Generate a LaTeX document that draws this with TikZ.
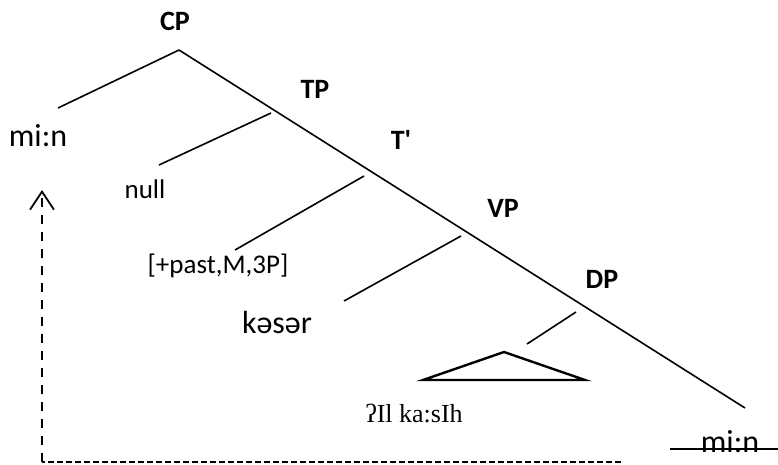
\documentclass[tikz,border=0pt]{standalone}
\usepackage{fontspec}
\setmainfont{Carlito}
\newfontfamily\labelfont{Carlito}
\newfontfamily\ipafont{Liberation Serif}
\usetikzlibrary{arrows.meta}

\begin{document}
\begin{tikzpicture}[x=1pt, y=-1pt,
  cat/.style={anchor=base, font=\labelfont\fontsize{28}{32}\selectfont\bfseries},
  word/.style={anchor=base, font=\labelfont\fontsize{32}{36}\selectfont},
  small/.style={anchor=base, font=\labelfont\fontsize{27}{30}\selectfont},
  edge/.style={line width=1.6pt}]
\useasboundingbox (0,0) rectangle (778,464);
% labels
\node[cat] (CP) at (175,30) {CP};
\node[cat] (TP) at (315,98) {TP};
\node[cat] (Tbar) at (401,149) {T'};
\node[cat] (VP) at (503,217) {VP};
\node[cat] (DP) at (602,288) {DP};
\node[word] (wh) at (38,146) {mi:n};
\node[small] (null) at (145,198) {null};
\node[small] (feat) at (218,273) {[+past,M,3P]};
\node[word] (verb) at (277,333) {kəsər};
\node[anchor=base, font=\ipafont\fontsize{26}{30}\selectfont] (obj) at (414,422) {ʔIl ka:sIh};
\node[word] (trace) at (730,452) {mi:n};
% branch ends
\coordinate (top) at (179,50);
\coordinate (bot) at (745,408);
\coordinate (specC) at (58,108);
\coordinate (t1) at (271,113);  \coordinate (t2) at (159,165);
\coordinate (b1) at (364,176);  \coordinate (b2) at (235,250);
\coordinate (v1) at (461,236);  \coordinate (v2) at (344,301);
\coordinate (d1) at (576,312);  \coordinate (d2) at (527,344);
\draw[edge] (top) -- (bot);
\draw[edge] (top) -- (specC);
\draw[edge] (t1) -- (t2);
\draw[edge] (b1) -- (b2);
\draw[edge] (v1) -- (v2);
\draw[edge] (d1) -- (d2);
% triangle
\coordinate (apex) at (504,352);
\coordinate (tl) at (423,380);
\coordinate (tr) at (585,380);
\draw[line width=2.4pt, line join=miter] (apex) -- (tl) -- (tr) -- cycle;
% struck-out copy
\coordinate (s1) at (670,449);
\coordinate (s2) at (778,449);
\draw[edge] (s1) -- (s2);
% movement
\coordinate (m0) at (621,462);
\coordinate (corner) at (42,462);
\coordinate (tip) at (42,190);
\draw[line width=2pt, dash pattern=on 6pt off 3pt] (m0) -- (corner);
\draw[line width=2pt, dash pattern=on 9pt off 8pt, -{Straight Barb[length=18pt, width=24pt, line width=1.8pt]}] (corner) -- (tip);
\end{tikzpicture}
\end{document}
